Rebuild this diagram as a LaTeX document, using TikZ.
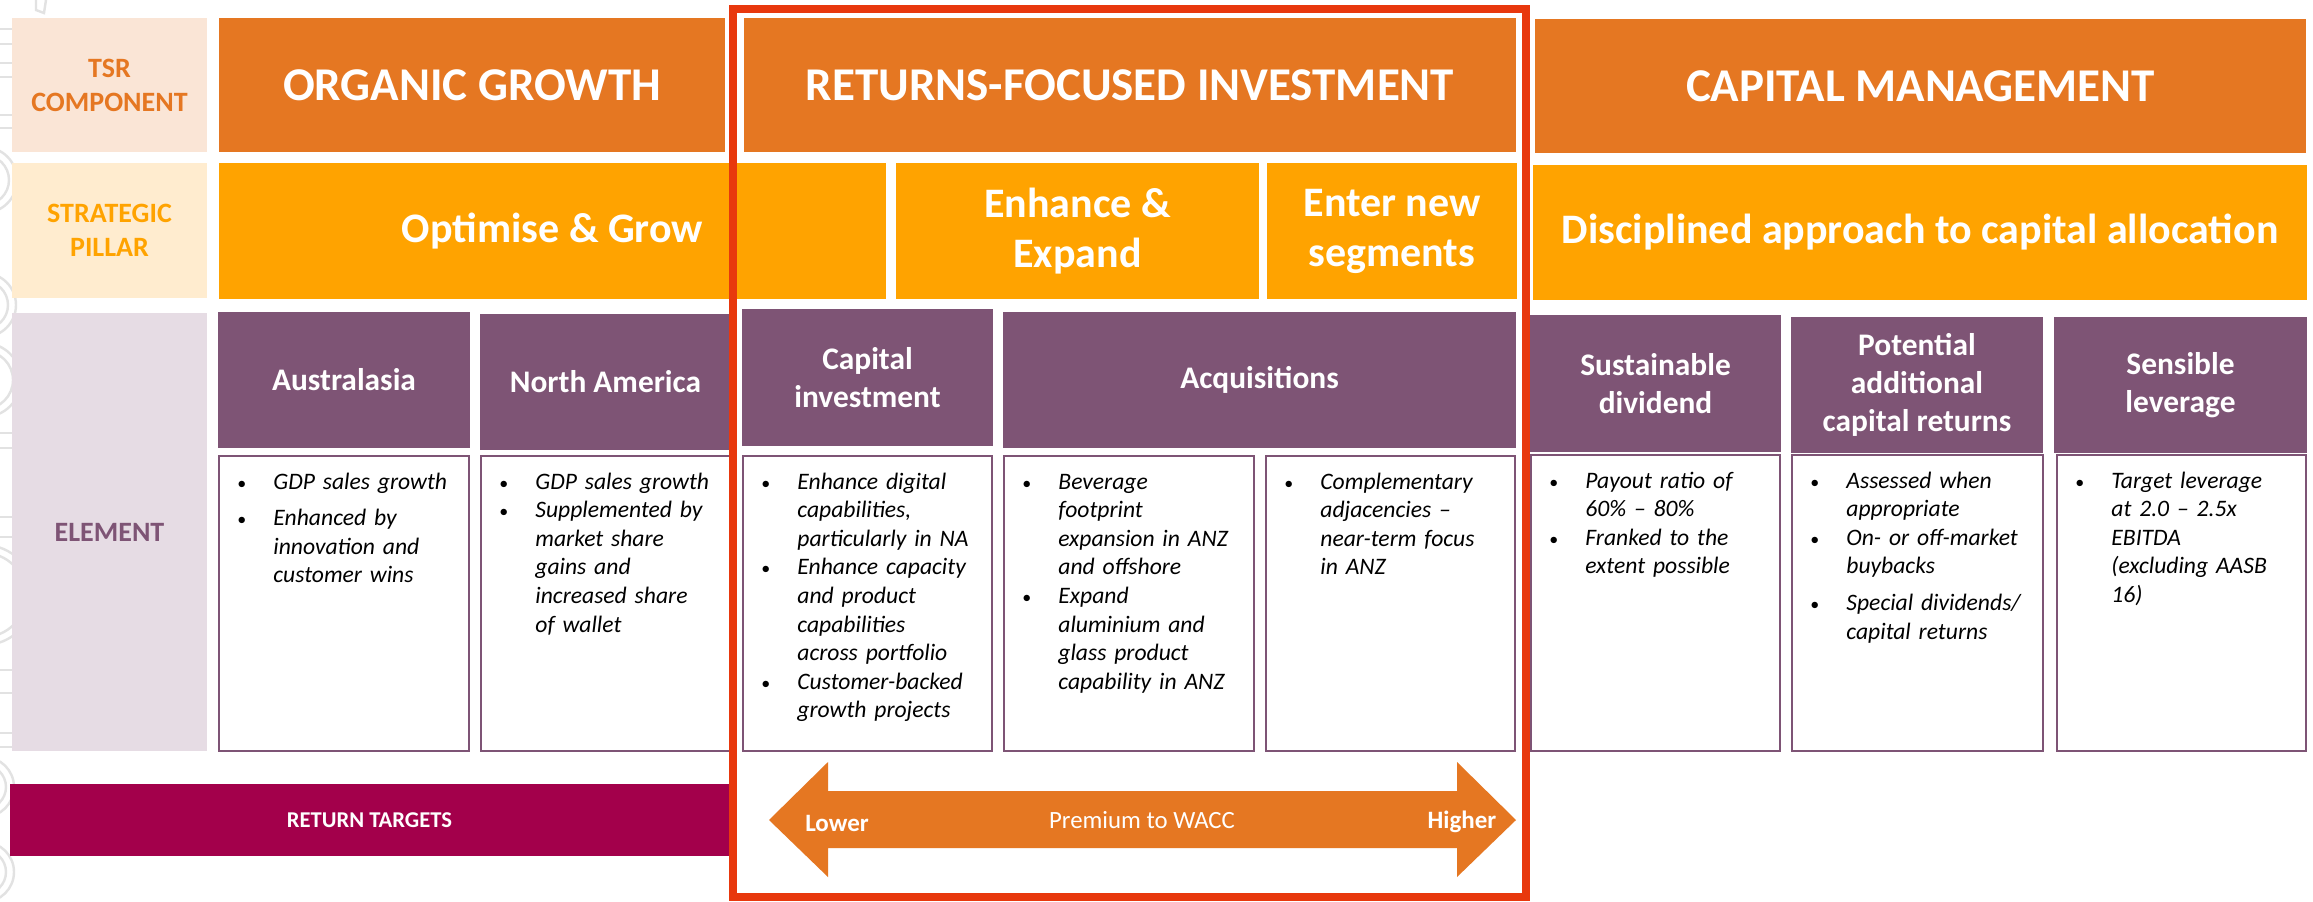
\documentclass[tikz,border=0pt]{standalone}
\usepackage{fontspec}
\setmainfont{Carlito}
\definecolor{dorange}{HTML}{E57722}
\definecolor{lorange}{HTML}{FFA300}
\definecolor{purp}{HTML}{7E5475}
\definecolor{tsrbg}{HTML}{FAE5D6}
\definecolor{pilbg}{HTML}{FFECCF}
\definecolor{elbg}{HTML}{E6DCE4}
\definecolor{crim}{HTML}{A3004B}
\definecolor{redframe}{HTML}{E8380D}
\definecolor{wmark}{HTML}{E2E2E2}

% cell{name}{x1}{y1}{x2}{y2}{style}{text}, coordinates in pixels
\newcommand\cell[7]{\node[#6, minimum width={(#4-#2)*0.5pt}, minimum height={(#5-#3)*0.5pt}] (#1) at ({(#2+#4)/2},{(#3+#5)/2}) {#7};}
\newcommand\bul[1]{\par\noindent\makebox[18pt][l]{\upshape\fontsize{9}{9}\selectfont\textbullet}\parbox[t]{94pt}{\raggedright #1\strut}\par\prevdepth=\dp\strutbox}

\tikzset{
  cellbase/.style={inner sep=0pt, outer sep=0pt, align=center},
  tsrcell/.style={cellbase, fill=dorange, text=white, font=\fontsize{23.5}{28}\selectfont\bfseries},
  pilcell/.style={cellbase, fill=lorange, text=white, font=\fontsize{21}{25}\selectfont\bfseries},
  elcell/.style={cellbase, fill=purp, text=white, font=\fontsize{15.7}{19}\selectfont\bfseries},
  lblcell/.style={cellbase, font=\fontsize{14}{17}\selectfont\bfseries},
  txtbox/.style={cellbase, draw=purp, line width=1.1pt, fill=white},
  bultext/.style={anchor=north west, inner sep=0pt, text width=113pt, align=left,
    font=\fontsize{11.8}{14.3}\selectfont\itshape},
  arrowtext/.style={text=white, inner sep=0pt, font=\fontsize{12.4}{14}\selectfont},
}

\begin{document}
\begin{tikzpicture}[x=0.5pt,y=-0.5pt]
\useasboundingbox[fill=white] (0,0) rectangle (2313,901);

% faint watermark at the left edge
\begin{scope}
  \clip (0,0) rectangle (60,901);
  \begin{scope}[draw=wmark, line width=1.2pt]
    \draw (-5,29) rectangle (15,44);
    \draw (-5,63) rectangle (15,77);
    \draw (-5,115) rectangle (15,128);
    \draw (-5,433) rectangle (15,448);
    \draw (-5,517) rectangle (15,537);
    \draw (-5,670) rectangle (15,693);
    \draw (-5,733) rectangle (15,747);
    \draw (36,0) -- (36,10) -- (44,13) -- (46,0);
    \foreach \cy/\r in {180/33, 305/32, 380/37, 595/50, 787/30, 872/30}{
      \draw (-16,\cy) circle[radius=\r];
      \draw (-16,\cy) circle[radius=\r-8];
    }
  \end{scope}
\end{scope}

% row 1: TSR component
\cell{tsr}{12}{18}{207}{152}{lblcell, fill=tsrbg, text=dorange}{TSR\\COMPONENT}
\cell{og}{219}{18}{725}{152}{tsrcell}{ORGANIC GROWTH}
\cell{rfi}{744}{18}{1516}{152}{tsrcell}{RETURNS-FOCUSED INVESTMENT}
\cell{cm}{1535}{19}{2306}{153}{tsrcell}{CAPITAL MANAGEMENT}

% row 2: strategic pillar
\cell{sp}{12}{163}{207}{298}{lblcell, fill=pilbg, text=lorange}{STRATEGIC\\PILLAR}
\cell{opt}{219}{163}{886}{299}{pilcell}{Optimise \& Grow}
\cell{enh}{896}{163}{1259}{299}{pilcell}{Enhance \&\\Expand}
\cell{ent}{1267}{163}{1517}{299}{pilcell}{Enter new\\segments}
\cell{dis}{1533}{165}{2307}{300}{pilcell}{Disciplined approach to capital allocation}

% row 3: element headers
\cell{el}{12}{313}{207}{751}{lblcell, fill=elbg, text=purp}{ELEMENT}
\cell{h1}{218}{312}{470}{448}{elcell}{Australasia}
\cell{h2}{480}{314}{731}{450}{elcell}{North America}
\cell{h3}{742}{309}{993}{446}{elcell}{Capital\\investment}
\cell{h4}{1003}{312}{1516}{448}{elcell}{Acquisitions}
\cell{h5}{1530}{315}{1781}{452}{elcell}{Sustainable\\dividend}
\cell{h6}{1791}{317}{2043}{453}{elcell}{Potential\\additional\\capital returns}
\cell{h7}{2054}{317}{2307}{453}{elcell}{Sensible\\leverage}

% row 4: text boxes
\cell{b1}{219}{456}{469}{751}{txtbox}{}
\cell{b2}{481}{456}{730}{751}{txtbox}{}
\cell{b3}{743}{456}{992}{751}{txtbox}{}
\cell{b4}{1004}{456}{1254}{751}{txtbox}{}
\cell{b5}{1266}{456}{1515}{751}{txtbox}{}
\cell{b6}{1531}{455}{1780}{751}{txtbox}{}
\cell{b7}{1792}{455}{2043}{751}{txtbox}{}
\cell{b8}{2057}{455}{2306}{751}{txtbox}{}

\node[bultext] (t1) at ([xshift=9pt,yshift=-2pt]b1.north west) {%
  \bul{GDP sales growth}
  \vspace{4pt}\bul{Enhanced by\\innovation and\\customer wins}};
\node[bultext] (t2) at ([xshift=9pt,yshift=-2pt]b2.north west) {%
  \bul{GDP sales growth}
  \bul{Supplemented by\\market share\\gains and\\increased share\\of wallet}};
\node[bultext] (t3) at ([xshift=9pt,yshift=-2pt]b3.north west) {%
  \bul{Enhance digital\\capabilities,\\particularly in NA}
  \bul{Enhance capacity\\and product\\capabilities\\across portfolio}
  \bul{Customer-backed\\growth projects}};
\node[bultext] (t4) at ([xshift=9pt,yshift=-2pt]b4.north west) {%
  \bul{Beverage\\footprint\\expansion in ANZ\\and offshore}
  \bul{Expand\\aluminium and\\glass product\\capability in ANZ}};
\node[bultext] (t5) at ([xshift=9pt,yshift=-2pt]b5.north west) {%
  \bul{Complementary\\adjacencies –\\near-term focus\\in ANZ}};
\node[bultext] (t6) at ([xshift=9pt,yshift=-2pt]b6.north west) {%
  \bul{Payout ratio of\\60\% – 80\%}
  \bul{Franked to the\\extent possible}};
\node[bultext] (t7) at ([xshift=9pt,yshift=-2pt]b7.north west) {%
  \bul{Assessed when\\appropriate}
  \bul{On- or off-market\\buybacks}
  \vspace{4pt}\bul{Special dividends/\\capital returns}};
\node[bultext] (t8) at ([xshift=9pt,yshift=-2pt]b8.north west) {%
  \bul{Target leverage\\at 2.0 – 2.5x\\EBITDA\\(excluding AASB\\16)}};

% row 5: return targets
\cell{rt}{10}{784}{729}{856}{cellbase, fill=crim, text=white, font=\fontsize{11.3}{13}\selectfont\bfseries}{RETURN TARGETS}
\fill[dorange] (769,820) -- (828,762) -- (828,791) -- (1457,791) -- (1457,762) -- (1516,820)
  -- (1457,877) -- (1457,848) -- (828,848) -- (828,877) -- cycle;
\node[arrowtext, font=\fontsize{12.5}{14}\selectfont\bfseries] (lower) at (837,823) {Lower};
\node[arrowtext] (prem) at (1142,820) {Premium to WACC};
\node[arrowtext, font=\fontsize{12.5}{14}\selectfont\bfseries] (higher) at (1462,822) {Higher};

% red highlight frame
\draw[redframe, line width=4pt] (733,9) rectangle (1526,897);
\end{tikzpicture}
\end{document}
